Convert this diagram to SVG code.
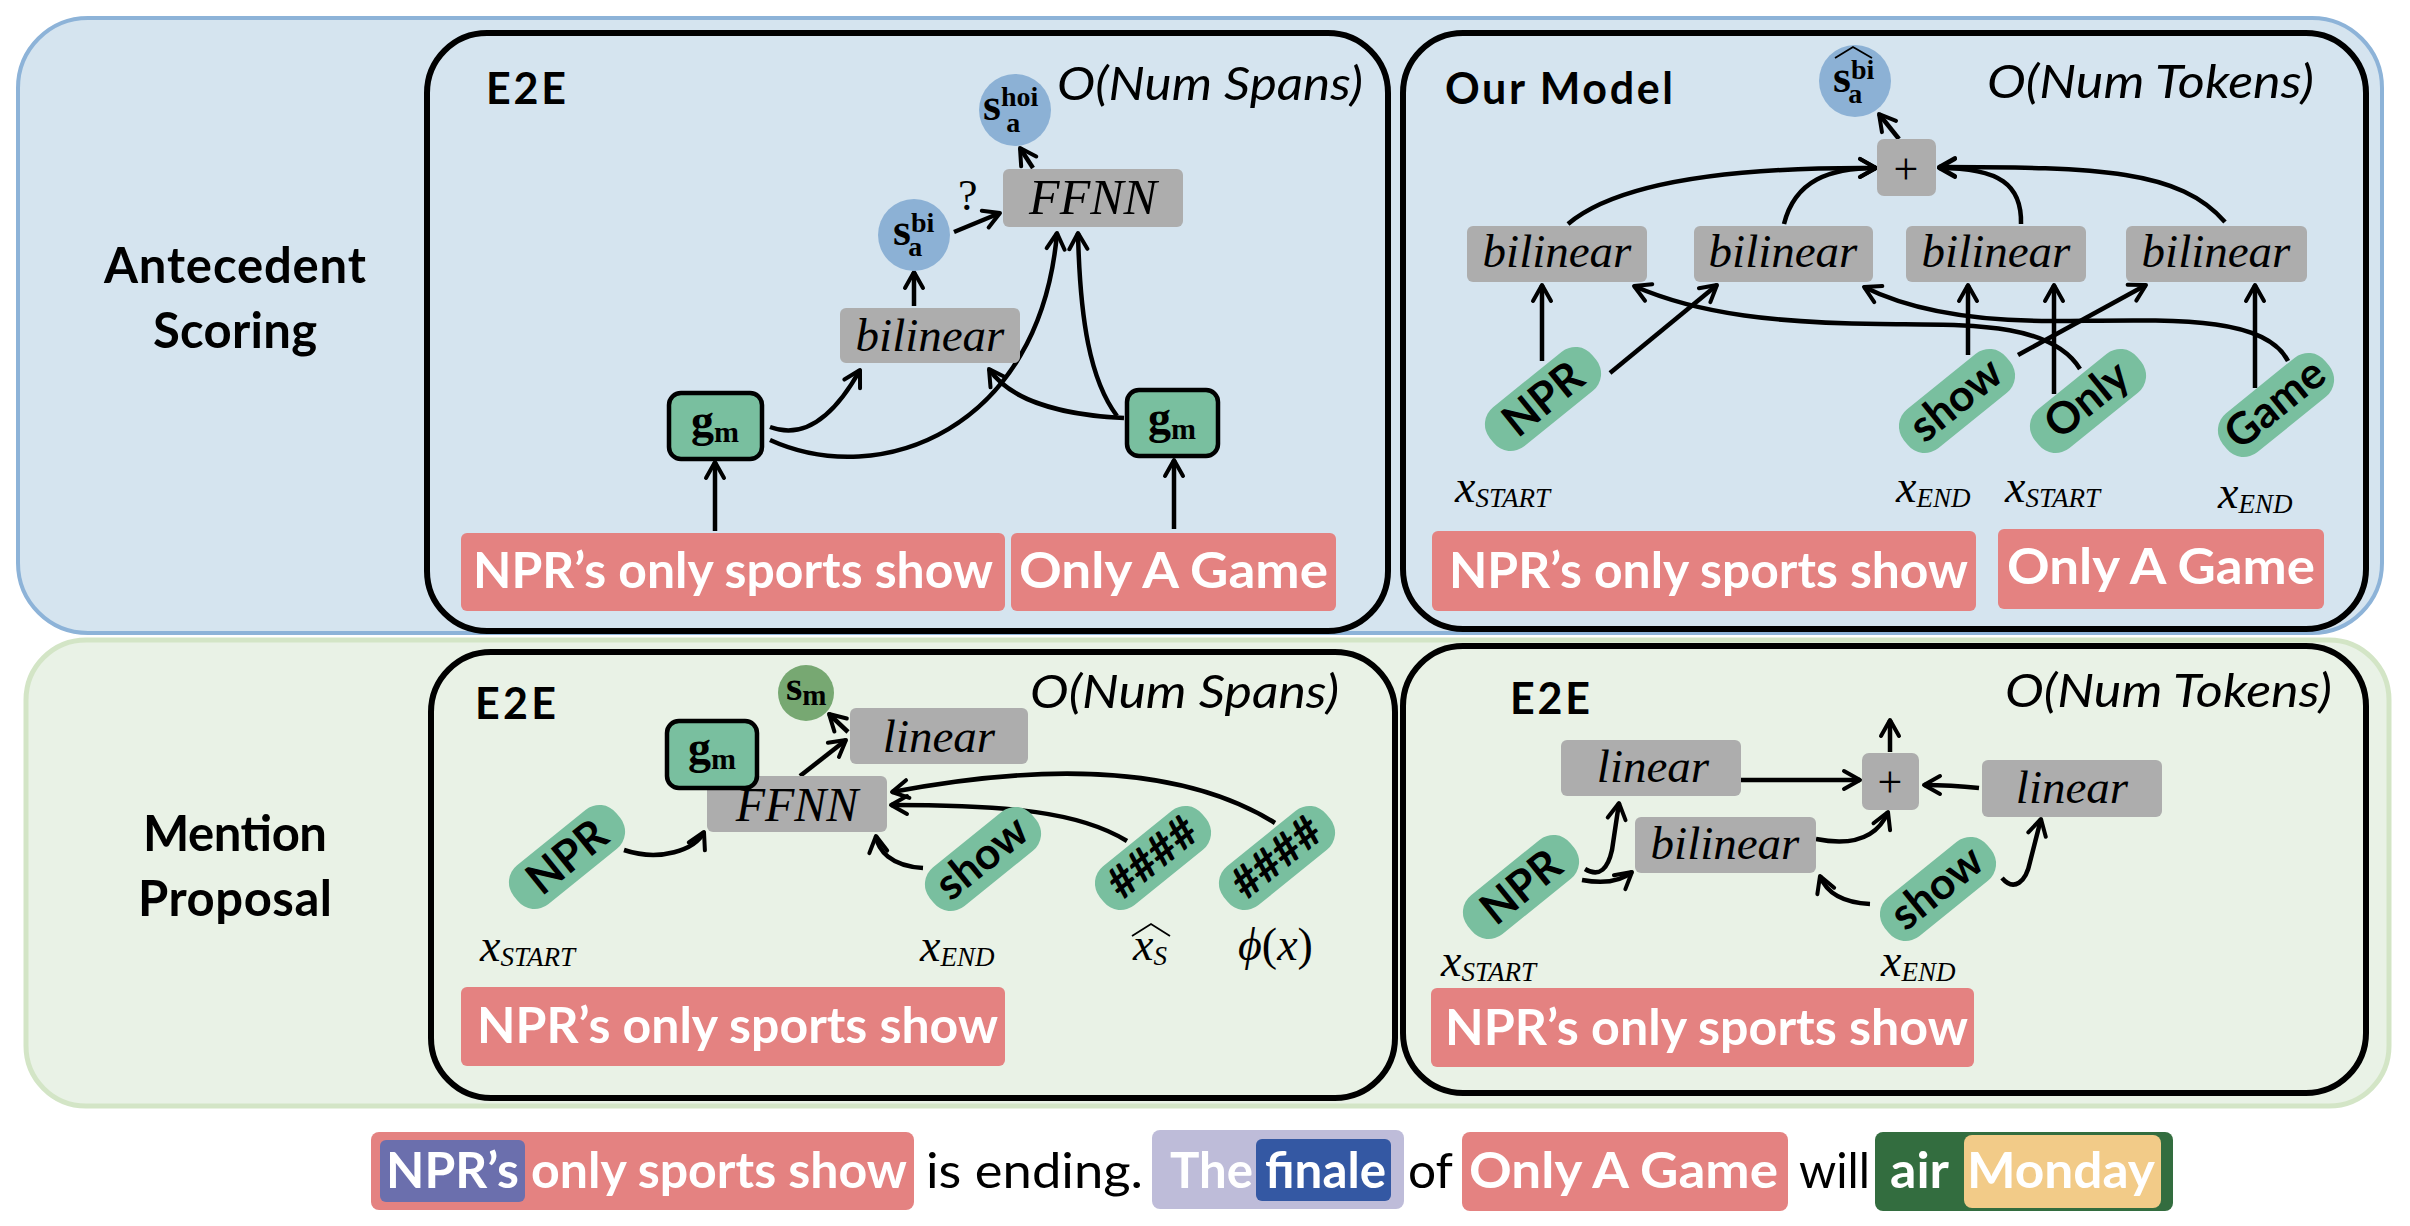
<svg xmlns="http://www.w3.org/2000/svg" width="2410" height="1226" viewBox="0 0 2410 1226">
<defs>
<style>
.panelA{fill:#d5e4ef;stroke:#8db3d8;stroke-width:4}
.panelB{fill:#e9f2e6;stroke:#d3e5c6;stroke-width:5}
.frame{fill:none;stroke:#000;stroke-width:6}
.gray{fill:#adadad}
.pink{fill:#e48281}
.pill{fill:#79bf9f}
.gm{fill:#79bf9f;stroke:#000;stroke-width:4.5}
.cblue{fill:#8cb1d5}
.cgreen{fill:#77a872}
.title{font-family:Lato,'Liberation Sans',sans-serif;font-weight:700;font-size:43px;fill:#000}
.side{font-family:Lato,'Liberation Sans',sans-serif;font-weight:700;font-size:49px;fill:#000;text-anchor:middle}
.cplx{font-family:Lato,'Liberation Sans',sans-serif;font-style:italic;font-size:47px;fill:#000}
.it{font-family:'Liberation Serif',serif;font-style:italic;fill:#000}
.rm{font-family:'Liberation Serif',serif;fill:#000}
.mb{font-family:'Liberation Serif',serif;font-weight:700;fill:#000}
.wt{font-family:Lato,'Liberation Sans',sans-serif;font-weight:700;font-size:49px;fill:#fff}
.bk{font-family:Lato,'Liberation Sans',sans-serif;font-weight:400;font-size:49px;fill:#000}
.tok{font-family:Lato,'Liberation Sans',sans-serif;font-weight:700;font-size:44px;fill:#000;text-anchor:middle}
.arr{fill:none;stroke:#000;stroke-width:4.5;marker-end:url(#ah)}
.hat{fill:none;stroke:#000;stroke-width:1.8}
</style>
<marker id="ah" viewBox="0 0 24 24" refX="21" refY="12" markerWidth="24" markerHeight="24" markerUnits="userSpaceOnUse" orient="auto">
<path d="M5,3 L21,12 L5,21" fill="none" stroke="#000" stroke-width="4" stroke-linecap="round" stroke-linejoin="round"/>
</marker>
</defs>

<rect width="2410" height="1226" fill="#fff"/>

<!-- panels -->
<g id="panel-antecedent">
<rect class="panelA" x="18" y="18" width="2364" height="615" rx="70"/>
<text class="side" x="235" y="283" textLength="262">Antecedent</text>
<text class="side" x="235" y="348" textLength="164">Scoring</text>
</g>
<g id="panel-mention">
<rect class="panelB" x="26" y="640" width="2363" height="466" rx="60"/>
<text class="side" x="235" y="851" textLength="184">Mention</text>
<text class="side" x="235" y="916" textLength="194">Proposal</text>
</g>

<!-- frames -->
<g id="frame-tl"><rect class="frame" x="427" y="33" width="961" height="598" rx="60"/>
<text class="title" x="486" y="104" textLength="80">E2E</text>
<text class="cplx" x="1057" y="100" textLength="306" lengthAdjust="spacingAndGlyphs">O(Num Spans)</text></g>
<g id="frame-tr"><rect class="frame" x="1403" y="33" width="963" height="596" rx="60"/>
<text class="title" x="1445" y="104" textLength="228">Our Model</text>
<text class="cplx" x="1987" y="98" textLength="327" lengthAdjust="spacingAndGlyphs">O(Num Tokens)</text></g>
<g id="frame-bl"><rect class="frame" x="431" y="652" width="964" height="446" rx="60"/>
<text class="title" x="475" y="719" textLength="81">E2E</text>
<text class="cplx" x="1030" y="708" textLength="309" lengthAdjust="spacingAndGlyphs">O(Num Spans)</text></g>
<g id="frame-br"><rect class="frame" x="1403" y="646" width="963" height="447" rx="60"/>
<text class="title" x="1510" y="714" textLength="80">E2E</text>
<text class="cplx" x="2005" y="707" textLength="327" lengthAdjust="spacingAndGlyphs">O(Num Tokens)</text></g>

<!-- connectors -->
<g id="connectors">
<!-- top-left -->
<path class="arr" d="M715 531 L715 462"/>
<path class="arr" d="M1174 529 L1174 460"/>
<path class="arr" d="M770 427 Q818 445 860 370"/>
<path class="arr" d="M770 440 C880 490 1040 430 1057 233"/>
<path class="arr" d="M1124 418 C1060 415 1010 400 989 369"/>
<path class="arr" d="M1117 416 C1090 380 1080 320 1078 233"/>
<path class="arr" d="M914 306 L914 272"/>
<path class="arr" d="M954 232 L1000 213"/>
<path class="arr" d="M1033 168 L1020 148"/>
<!-- top-right -->
<path class="arr" d="M1899 139 L1879 114"/>
<path class="arr" d="M1568 224 C1620 180 1740 167 1876 168"/>
<path class="arr" d="M1784 224 C1795 180 1830 168 1876 168"/>
<path class="arr" d="M2021 224 C2022 185 2000 168 1939 168"/>
<path class="arr" d="M2225 222 C2180 170 2100 167 1939 167"/>
<path class="arr" d="M1542 361 L1542 285"/>
<path class="arr" d="M1610 373 L1717 285"/>
<path class="arr" d="M1968 355 L1968 285"/>
<path class="arr" d="M2018 355 L2146 285"/>
<path class="arr" d="M2054 394 L2054 285"/>
<path class="arr" d="M2255 388 L2255 285"/>
<path class="arr" d="M2080 369 C2050 320 1960 325 1880 324 C1780 323 1700 315 1634 286"/>
<path class="arr" d="M2288 361 C2265 315 2170 320 2060 321 C1960 322 1900 305 1864 287"/>
<!-- bottom-left -->
<path class="arr" d="M800 776 L846 740"/>
<path class="arr" d="M848 732 L829 714"/>
<path class="arr" d="M624 850 C660 862 695 850 704 832"/>
<path class="arr" d="M923 868 C890 866 878 850 876 836"/>
<path class="arr" d="M1127 841 C1080 812 1010 805 891 805"/>
<path class="arr" d="M1275 823 C1190 770 1060 760 892 792"/>
<!-- bottom-right -->
<path class="arr" d="M1890 752 L1890 720"/>
<path class="arr" d="M1741 780 L1860 780"/>
<path class="arr" d="M1979 788 C1960 786 1940 785 1924 785"/>
<path class="arr" d="M1816 839 Q1872 850 1888 812"/>
<path class="arr" d="M1585 869 C1600 878 1608 868 1612 850 L1619 803"/>
<path class="arr" d="M1582 880 Q1615 886 1632 872"/>
<path class="arr" d="M1870 904 Q1830 902 1820 876"/>
<path class="arr" d="M2002 878 C2014 892 2026 882 2030 862 L2041 819"/>
</g>

<!-- top-left nodes -->
<g id="tl-span1"><rect class="pink" x="461" y="533" width="544" height="78" rx="6"/>
<text class="wt" x="473" y="588" textLength="520" lengthAdjust="spacingAndGlyphs">NPR’s only sports show</text></g>
<g id="tl-span2"><rect class="pink" x="1011" y="533" width="325" height="78" rx="6"/>
<text class="wt" x="1019" y="588" textLength="309" lengthAdjust="spacingAndGlyphs">Only A Game</text></g>
<g id="tl-gm1"><rect class="gm" x="669" y="393" width="93" height="66" rx="12"/>
<text class="mb" x="715" y="436" text-anchor="middle"><tspan font-size="46">g</tspan><tspan font-size="30" dy="6">m</tspan></text></g>
<g id="tl-gm2"><rect class="gm" x="1127" y="390" width="91" height="66" rx="12"/>
<text class="mb" x="1172" y="433" text-anchor="middle"><tspan font-size="46">g</tspan><tspan font-size="30" dy="6">m</tspan></text></g>
<g id="tl-bilinear"><rect class="gray" x="840" y="308" width="180" height="55" rx="6"/>
<text class="it" x="930" y="351" font-size="47" text-anchor="middle">bilinear</text></g>
<g id="tl-sbi"><circle class="cblue" cx="914" cy="235" r="36"/>
<text class="mb" x="893" y="245"><tspan font-size="46">s</tspan><tspan font-size="28" dy="-13">bi</tspan><tspan font-size="28" dx="-26" dy="24">a</tspan></text></g>
<g id="tl-q"><text class="rm" x="958" y="210" font-size="44">?</text></g>
<g id="tl-ffnn"><rect class="gray" x="1003" y="169" width="180" height="58" rx="6"/>
<text class="it" x="1093" y="214" font-size="50" text-anchor="middle">FFNN</text></g>
<g id="tl-shoi"><circle class="cblue" cx="1015" cy="110" r="36"/>
<text class="mb" x="983" y="120"><tspan font-size="46">s</tspan><tspan font-size="28" dy="-14">hoi</tspan><tspan font-size="28" dx="-32" dy="26">a</tspan></text></g>

<!-- top-right nodes -->
<g id="tr-span1"><rect class="pink" x="1432" y="531" width="544" height="80" rx="6"/>
<text class="wt" x="1449" y="588" textLength="519" lengthAdjust="spacingAndGlyphs">NPR’s only sports show</text></g>
<g id="tr-span2"><rect class="pink" x="1998" y="529" width="326" height="80" rx="6"/>
<text class="wt" x="2007" y="584" textLength="308" lengthAdjust="spacingAndGlyphs">Only A Game</text></g>
<g id="tr-npr" transform="translate(1543 399) rotate(-39)"><rect class="pill" x="-66" y="-25" width="132" height="50" rx="22"/>
<text class="tok" x="0" y="15">NPR</text></g>
<g id="tr-show" transform="translate(1957 401) rotate(-39)"><rect class="pill" x="-66" y="-25" width="132" height="50" rx="22"/>
<text class="tok" x="0" y="13">show</text></g>
<g id="tr-only" transform="translate(2088 401) rotate(-39)"><rect class="pill" x="-66" y="-25" width="132" height="50" rx="22"/>
<text class="tok" x="0" y="13">Only</text></g>
<g id="tr-game" transform="translate(2276 405) rotate(-39)"><rect class="pill" x="-66" y="-25" width="132" height="50" rx="22"/>
<text class="tok" x="0" y="13">Game</text></g>
<g id="tr-labels">
<text class="it" x="1455" y="502"><tspan font-size="46">x</tspan><tspan font-size="27" dy="5">START</tspan></text>
<text class="it" x="1896" y="502"><tspan font-size="46">x</tspan><tspan font-size="27" dy="5">END</tspan></text>
<text class="it" x="2005" y="502"><tspan font-size="46">x</tspan><tspan font-size="27" dy="5">START</tspan></text>
<text class="it" x="2218" y="508"><tspan font-size="46">x</tspan><tspan font-size="27" dy="5">END</tspan></text>
</g>
<g id="tr-bil1"><rect class="gray" x="1467" y="226" width="180" height="56" rx="6"/>
<text class="it" x="1557" y="267" font-size="47" text-anchor="middle">bilinear</text></g>
<g id="tr-bil2"><rect class="gray" x="1694" y="226" width="179" height="56" rx="6"/>
<text class="it" x="1783" y="267" font-size="47" text-anchor="middle">bilinear</text></g>
<g id="tr-bil3"><rect class="gray" x="1906" y="226" width="180" height="56" rx="6"/>
<text class="it" x="1996" y="267" font-size="47" text-anchor="middle">bilinear</text></g>
<g id="tr-bil4"><rect class="gray" x="2126" y="226" width="181" height="56" rx="6"/>
<text class="it" x="2216" y="267" font-size="47" text-anchor="middle">bilinear</text></g>
<g id="tr-plus"><rect class="gray" x="1877" y="139" width="59" height="57" rx="7"/>
<text class="rm" x="1906" y="184" font-size="44" text-anchor="middle">+</text></g>
<g id="tr-sbihat"><circle class="cblue" cx="1855" cy="81" r="36"/>
<path class="hat" d="M1835 58 L1853 47 L1872 58"/>
<text class="mb" x="1833" y="92"><tspan font-size="46">s</tspan><tspan font-size="28" dy="-13">bi</tspan><tspan font-size="28" dx="-26" dy="24">a</tspan></text></g>

<!-- bottom-left nodes -->
<g id="bl-span"><rect class="pink" x="461" y="987" width="544" height="79" rx="6"/>
<text class="wt" x="477" y="1043" textLength="521" lengthAdjust="spacingAndGlyphs">NPR’s only sports show</text></g>
<g id="bl-npr" transform="translate(567 857) rotate(-39)"><rect class="pill" x="-66" y="-25" width="132" height="50" rx="22"/>
<text class="tok" x="0" y="15">NPR</text></g>
<g id="bl-show" transform="translate(983 859) rotate(-39)"><rect class="pill" x="-66" y="-25" width="132" height="50" rx="22"/>
<text class="tok" x="0" y="13">show</text></g>
<g id="bl-hash1" transform="translate(1153 858) rotate(-39)"><rect class="pill" x="-66" y="-25" width="132" height="50" rx="22"/>
<text class="tok" x="0" y="14" font-size="38">####</text></g>
<g id="bl-hash2" transform="translate(1277 858) rotate(-39)"><rect class="pill" x="-66" y="-25" width="132" height="50" rx="22"/>
<text class="tok" x="0" y="14" font-size="38">####</text></g>
<g id="bl-labels">
<text class="it" x="480" y="961"><tspan font-size="46">x</tspan><tspan font-size="27" dy="5">START</tspan></text>
<text class="it" x="920" y="961"><tspan font-size="46">x</tspan><tspan font-size="27" dy="5">END</tspan></text>
<text class="it" x="1133" y="960"><tspan font-size="46">x</tspan><tspan font-size="27" dy="5">S</tspan></text>
<path class="hat" d="M1132 936 L1151 924 L1170 936"/>
<text class="it" x="1238" y="960" font-size="46">ϕ<tspan font-style="normal">(</tspan>x<tspan font-style="normal">)</tspan></text>
</g>
<g id="bl-ffnn"><rect class="gray" x="707" y="776" width="180" height="56" rx="6"/>
<text class="it" x="797" y="821" font-size="48" text-anchor="middle">FFNN</text></g>
<g id="bl-gm"><rect class="gm" x="667" y="721" width="90" height="67" rx="12"/>
<text class="mb" x="712" y="763" text-anchor="middle"><tspan font-size="46">g</tspan><tspan font-size="30" dy="6">m</tspan></text></g>
<g id="bl-linear"><rect class="gray" x="850" y="708" width="178" height="56" rx="6"/>
<text class="it" x="939" y="752" font-size="47" text-anchor="middle">linear</text></g>
<g id="bl-sm"><circle class="cgreen" cx="806" cy="693" r="28"/>
<text class="mb" x="786" y="700"><tspan font-size="42">s</tspan><tspan font-size="29" dy="5">m</tspan></text></g>

<!-- bottom-right nodes -->
<g id="br-span"><rect class="pink" x="1431" y="988" width="543" height="79" rx="6"/>
<text class="wt" x="1445" y="1045" textLength="523" lengthAdjust="spacingAndGlyphs">NPR’s only sports show</text></g>
<g id="br-npr" transform="translate(1521 887) rotate(-39)"><rect class="pill" x="-66" y="-25" width="132" height="50" rx="22"/>
<text class="tok" x="0" y="15">NPR</text></g>
<g id="br-show" transform="translate(1938 889) rotate(-39)"><rect class="pill" x="-66" y="-25" width="132" height="50" rx="22"/>
<text class="tok" x="0" y="13">show</text></g>
<g id="br-labels">
<text class="it" x="1441" y="976"><tspan font-size="46">x</tspan><tspan font-size="27" dy="5">START</tspan></text>
<text class="it" x="1881" y="976"><tspan font-size="46">x</tspan><tspan font-size="27" dy="5">END</tspan></text>
</g>
<g id="br-linear1"><rect class="gray" x="1561" y="740" width="180" height="56" rx="6"/>
<text class="it" x="1653" y="782" font-size="47" text-anchor="middle">linear</text></g>
<g id="br-bilinear"><rect class="gray" x="1635" y="817" width="181" height="56" rx="6"/>
<text class="it" x="1725" y="859" font-size="47" text-anchor="middle">bilinear</text></g>
<g id="br-plus"><rect class="gray" x="1862" y="753" width="57" height="57" rx="7"/>
<text class="rm" x="1890" y="797" font-size="44" text-anchor="middle">+</text></g>
<g id="br-linear2"><rect class="gray" x="1982" y="760" width="180" height="57" rx="6"/>
<text class="it" x="2072" y="803" font-size="47" text-anchor="middle">linear</text></g>

<!-- sentence -->
<g id="sentence">
<rect class="pink" x="371" y="1132" width="543" height="78" rx="8"/>
<rect x="380" y="1140" width="145" height="62" rx="6" fill="#6b6fad"/>
<text class="wt" x="386" y="1188" textLength="133" lengthAdjust="spacingAndGlyphs">NPR’s</text>
<text class="wt" x="531" y="1188" textLength="376" lengthAdjust="spacingAndGlyphs">only sports show</text>
<text class="bk" x="926" y="1188" textLength="217" lengthAdjust="spacingAndGlyphs">is ending.</text>
<rect x="1152" y="1130" width="252" height="79" rx="8" fill="#bebcd9"/>
<text class="wt" x="1170" y="1188" textLength="83" lengthAdjust="spacingAndGlyphs">The</text>
<rect x="1256" y="1139" width="135" height="62" rx="6" fill="#3458a3"/>
<text class="wt" x="1265" y="1188" textLength="121" lengthAdjust="spacingAndGlyphs">finale</text>
<text class="bk" x="1408" y="1188" textLength="45" lengthAdjust="spacingAndGlyphs">of</text>
<rect class="pink" x="1462" y="1132" width="326" height="79" rx="8"/>
<text class="wt" x="1469" y="1188" textLength="309" lengthAdjust="spacingAndGlyphs">Only A Game</text>
<text class="bk" x="1799" y="1188" textLength="71" lengthAdjust="spacingAndGlyphs">will</text>
<rect x="1875" y="1132" width="298" height="79" rx="8" fill="#336d3f"/>
<text class="wt" x="1890" y="1188" textLength="59" lengthAdjust="spacingAndGlyphs">air</text>
<rect x="1964" y="1135" width="197" height="73" rx="8" fill="#f2cb88"/>
<text class="wt" x="1967" y="1188" textLength="188" lengthAdjust="spacingAndGlyphs">Monday</text>
</g>
</svg>
